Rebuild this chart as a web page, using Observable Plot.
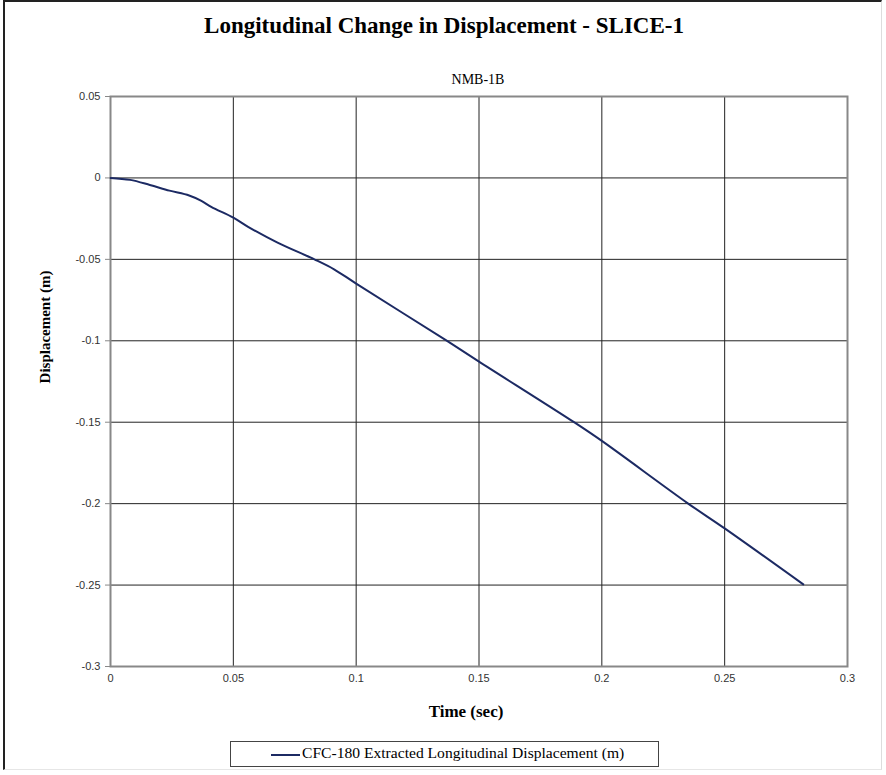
<!DOCTYPE html>
<html>
<head>
<meta charset="utf-8">
<script src="https://cdn.jsdelivr.net/npm/d3@7"></script>
<script src="https://cdn.jsdelivr.net/npm/@observablehq/plot@0.6"></script>
<style>
  html, body { margin: 0; padding: 0; background: #fff; }
  #wrap { position: relative; width: 886px; height: 775px; background: #fff; overflow: hidden; }
  #border { position: absolute; left: 3px; top: 0px; width: 879px; height: 770px;
    border-left: 2px solid #222; border-top: 2px solid #222; border-right: 1px solid #ddd; border-bottom: 1px solid #e6e6e6; box-sizing: border-box; }
  .t { position: absolute; font-family: "Liberation Serif", "Times New Roman", serif; color: #000; white-space: nowrap; }
  #title { left: 0; width: 888px; top: 13px; text-align: center; font-size: 23px; font-weight: bold; }
  #subtitle { left: 378px; width: 200px; top: 72px; text-align: center; font-size: 14px; }
  #xlabel { left: 366px; width: 200px; top: 702px; text-align: center; font-size: 17px; font-weight: bold; }
  #ylabel { left: 45px; top: 327px; font-size: 15px; font-weight: bold; transform: translate(-50%, -50%) rotate(-90deg); }
  #legend { position: absolute; left: 230px; top: 741px; width: 429px; height: 26px; border: 1px solid #444; box-sizing: border-box; background: #fff; }
  #legend .sw { position: absolute; left: 40px; top: 12px; width: 29px; height: 0; border-top: 2px solid #1c2a63; }
  #legend .lt { position: absolute; left: 71px; top: 2px; font-family: "Liberation Serif", "Times New Roman", serif; font-size: 15.6px; white-space: nowrap; }
  #plot { position: absolute; left: 0; top: 0; }
</style>
</head>
<body>
<div id="wrap">
  <div id="border"></div>
  <div id="plot"></div>
  <div id="title" class="t">Longitudinal Change in Displacement - SLICE-1</div>
  <div id="subtitle" class="t">NMB-1B</div>
  <div id="xlabel" class="t">Time (sec)</div>
  <div id="ylabel" class="t">Displacement (m)</div>
  <div id="legend"><span class="sw"></span><span class="lt">CFC-180 Extracted Longitudinal Displacement (m)</span></div>
</div>
<script>
const time = [0, 0.008, 0.016, 0.024, 0.032, 0.037, 0.041, 0.05, 0.056, 0.068, 0.083, 0.091, 0.1, 0.137, 0.15, 0.189, 0.2, 0.235, 0.25, 0.282];
const displacement = [0, -0.0012, -0.0043, -0.0078, -0.0108, -0.0141, -0.0178, -0.0244, -0.030, -0.0397, -0.05, -0.0561, -0.0649, -0.1001, -0.1128, -0.1503, -0.1615, -0.1998, -0.2152, -0.2496];
const xTicks = [0, 0.05, 0.1, 0.15, 0.2, 0.25, 0.3];
const xTickLabels = ["0", "0.05", "0.1", "0.15", "0.2", "0.25", "0.3"];
const yTicks = [0.05, 0, -0.05, -0.1, -0.15, -0.2, -0.25, -0.3];
const yTickLabels = ["0.05", "0", "-0.05", "-0.1", "-0.15", "-0.2", "-0.25", "-0.3"];

const data = time.map((t, i) => ({t, d: displacement[i]}));
const xInner = xTicks.filter(v => v > 0 && v < 0.3);
const yInner = yTicks.filter(v => v > -0.3 && v < 0.05);

const chart = Plot.plot({
  width: 886,
  height: 700,
  marginLeft: 110,
  marginRight: 39,
  marginTop: 96,
  marginBottom: 34,
  style: {background: "transparent", fontFamily: "'Liberation Sans', Arial, sans-serif", fontSize: "11px", color: "#333", overflow: "visible"},
  x: {domain: [0, 0.3]},
  y: {domain: [-0.3, 0.05]},
  marks: [
    Plot.ruleX(xInner, {stroke: "#222", strokeWidth: 1}),
    Plot.ruleY(yInner, {stroke: "#222", strokeWidth: 1}),
    Plot.frame({stroke: "#888", strokeWidth: 2}),
    Plot.line(data, {x: "t", y: "d", stroke: "#1c2a63", strokeWidth: 2, curve: "catmull-rom"}),
    Plot.axisX(xTicks, {tickSize: 0, tickPadding: 8, tickFormat: (d, i) => xTickLabels[i], label: null, fill: "#333"}),
    Plot.axisY(yTicks, {tickSize: 5, tickPadding: 5, stroke: "#888", tickFormat: (d, i) => yTickLabels[i], label: null, fill: "#333"})
  ]
});
document.getElementById("plot").appendChild(chart);
</script>
</body>
</html>
